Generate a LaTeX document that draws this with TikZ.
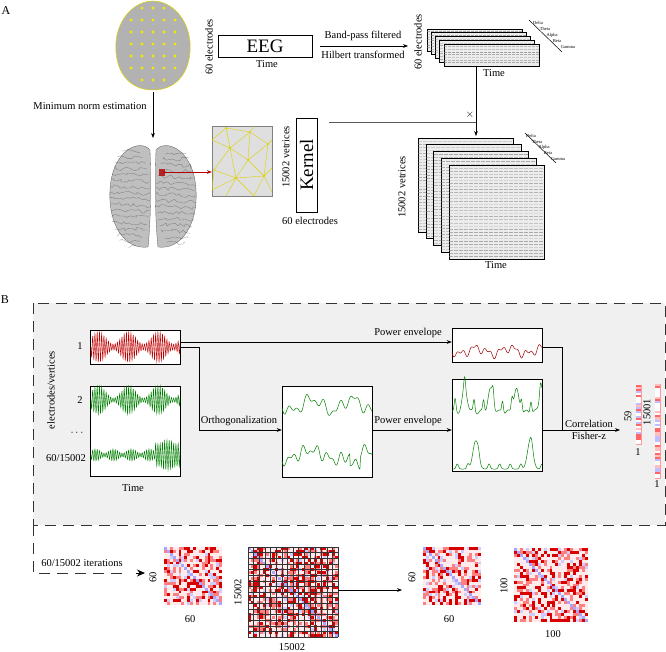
\documentclass[tikz,border=0pt]{standalone}
\usepackage{fontspec}
\setmainfont{Liberation Serif}
\usetikzlibrary{arrows.meta,decorations.pathmorphing}
\newcommand\rmat[5]{% x y size n grid
  \pgfmathsetmacro\mycs{#3/#4}
  \foreach \i in {1,...,#4}{\foreach \j in {1,...,#4}{
    \pgfmathtruncatemacro\v{random(0,100)}
    \ifnum\i=\j \def\cc{blue!35}\else
      \ifnum\v<24 \def\cc{red!85!black}\else
      \ifnum\v<46 \def\cc{red!50}\else
      \ifnum\v<54 \def\cc{blue!20}\else \def\cc{red!8}\fi\fi\fi\fi
    \fill[\cc] ({#1+(\j-1)*\mycs},{#2+(\i-1)*\mycs}) rectangle ++(\mycs,\mycs);
  }}
  \ifnum#5=1
    \foreach \k in {0,...,16}{\draw[black!80,line width=0.5pt] ({#1+\k*#3/16},#2) -- ++(0,#3);
      \draw[black!80,line width=0.5pt] (#1,{#2+\k*#3/16}) -- ++(#3,0);}
  \fi}
\newcommand\rvec[5]{% x y w h n
  \draw[red!40,line width=0.4pt] (#1,#2) rectangle ++(#3,#4);
  \pgfmathsetmacro\mycs{#4/#5}
  \foreach \i in {1,...,#5}{
    \pgfmathtruncatemacro\v{random(0,100)}
    \ifnum\v<25 \def\cc{red!60}\else\ifnum\v<45 \def\cc{blue!25}\else\ifnum\v<65 \def\cc{red!25}\else\def\cc{white}\fi\fi\fi
    \fill[\cc] (#1,{#2+(\i-1)*\mycs}) rectangle ++(#3,\mycs);}}
\begin{document}
\begin{tikzpicture}[x=1pt,y=-1pt,
  lbl/.style={font=\fontsize{10.5}{12}\selectfont,inner sep=1pt},
  tiny/.style={font=\fontsize{4.5}{5}\selectfont,inner sep=0pt},
  sbox/.style={draw,fill=white,inner sep=0pt,line width=0.5pt},
  arr/.style={-{Stealth[length=5pt]},line width=0.5pt},
  ln/.style={line width=0.5pt}]
\useasboundingbox (0,0) rectangle (666,652);
\pgfmathsetseed{7}
% ---------- A
\node[font=\fontsize{12}{12}\selectfont] (la) at (6,11) {A};
% head
\path[fill=gray!60,draw=yellow!70!olive,line width=0.5pt] (153,1) .. controls (135,1) and (118,18) .. (116,42) .. controls (114,70) and (128,90) .. (153,90) .. controls (178,90) and (192,70) .. (190,42) .. controls (188,18) and (171,1) .. (153,1) -- cycle;
\foreach \yy in {8,20,32,44,56,68,80}{
  \foreach \xx in {-33,-22,-11,0,11,22,33}{
    \pgfmathsetmacro\w{36*sqrt(max(0,1-((\yy-45)/45)^2))-3}
    \pgfmathtruncatemacro\ok{abs(\xx)<\w?1:0}
    \ifnum\ok=1 \fill[yellow!90!olive] ({153+\xx},\yy) circle (1.6);\fi}}
\coordinate (headb) at (153,92);
\node[lbl,rotate=90] (e1) at (209,47) {60 electrodes};
\node[sbox,minimum width=94pt,minimum height=22pt,font=\fontsize{19}{20}\selectfont] (eeg) at (265,46) {EEG};
\node[lbl] (t1) at (267,64) {Time};
\coordinate (bp1) at (320,46); \coordinate (bp2) at (408,46);
\draw[arr] (bp1) -- (bp2);
\node[lbl] (bpf) at (363,36) {Band-pass filtered};
\node[lbl] (hil) at (363,55) {Hilbert transformed};
% small stack
\foreach \i in {0,...,4}{
  \draw[sbox,fill=gray!15] ({427+4.2*\i},{29+3.75*\i}) rectangle ++(95,22);
  \foreach \k in {1,...,7}{\pgfmathsetmacro\o{rnd*0.5+0.2}
    \draw[gray,opacity=\o,line width=0.8pt,dash pattern=on 3pt off 1pt] ({427+4.2*\i},{29+3.75*\i+\k*2.7}) -- ++(95,0);}}
\node[inner sep=0pt,minimum width=95pt,minimum height=22pt] (stk1) at (491.8,55) {};
\node[lbl,rotate=90] (e2) at (418,42) {60 electrodes};
\node[lbl] (t2) at (494,73) {Time};
\draw[ln] (529,20) -- (562,52);
\node[tiny] at (538,23) {Delta};
\node[tiny] at (545,29) {Theta};
\node[tiny] at (552,35) {Alpha};
\node[tiny] at (557,41) {Beta};
\node[tiny] at (568,47) {Gamma};
% minimum norm
\node[lbl] (mn) at (90,106) {Minimum norm estimation};
\coordinate (brt) at (153,138);
\draw[arr] (headb) -- (brt);
% brain
\begin{scope}
\path[fill=gray!50,draw=gray!70!black,line width=0.3pt] (150,150) .. controls (140,138) and (112,150) .. (110,190) .. controls (108,225) and (125,250) .. (148,247) .. controls (151,220) and (151,180) .. (150,150) -- cycle;
\path[fill=gray!50,draw=gray!70!black,line width=0.3pt] (156,150) .. controls (166,138) and (194,150) .. (196,190) .. controls (198,225) and (181,250) .. (158,247) .. controls (155,220) and (155,180) .. (156,150) -- cycle;
\clip (130,197) ellipse (20 and 51) (176,197) ellipse (20 and 51);
\foreach \yy in {150,156,...,246}{
  \draw[gray!40!black,line width=0.35pt,opacity=0.45,decorate,decoration={random steps,segment length=3pt,amplitude=2pt}] (108,\yy) -- (198,{\yy+4});}
\end{scope}
\fill[red!70!black,opacity=0.8] (159,169) rectangle (165,176);
\node[inner sep=0pt] (roi) at (162,172) {};
% mesh
\node[draw=gray,fill=gray!25,minimum width=60pt,minimum height=70pt,inner sep=0pt] (mesh) at (242,161) {};
\draw[arr,red!70!black] (roi) -- (mesh.west |- roi);
\begin{scope}[yellow!70!olive,line width=0.4pt]
\draw (212,140) -- (226,128) (226,128) -- (230,148) -- (212,140) (226,128) -- (250,132) -- (230,148) (250,132) -- (268,144) -- (248,160) -- (250,132) (230,148) -- (248,160) (230,148) -- (214,170) -- (236,178) -- (230,148) (236,178) -- (248,160) -- (264,176) -- (236,178) (268,144) -- (264,176) (264,176) -- (272,168) (268,144) -- (272,140) (214,170) -- (212,190) -- (236,178) -- (226,196) (236,178) -- (254,196) -- (264,176) -- (272,192) (250,132) -- (254,126);
\fill (230,148) circle (1) (248,160) circle (1) (250,132) circle (1) (268,144) circle (1) (236,178) circle (1) (214,170) circle (1) (264,176) circle (1) (226,128) circle (1);
\end{scope}
% kernel
\node[lbl,rotate=90] (v1) at (286,157) {15002 vetrices};
\node[sbox,minimum width=21pt,minimum height=94pt,font=\fontsize{19}{20}\selectfont] (ker) at (306.5,165) {};
\node[rotate=90,font=\fontsize{19}{20}\selectfont] at (ker) {Kernel};
\node[lbl] (e3) at (310,221) {60 electrodes};
% big stack
\foreach \i in {0,...,4}{
  \draw[sbox,fill=gray!15] ({418+7.75*\i},{138+6.75*\i}) rectangle ++(95,94);
  \foreach \k in {1,...,30}{\pgfmathsetmacro\o{rnd*0.5+0.15}
    \draw[gray,opacity=\o,line width=0.8pt,dash pattern=on 4pt off 1pt] ({418+7.75*\i},{138+6.75*\i+\k*3.05}) -- ++(95,0);}}
\node[inner sep=0pt,minimum width=95pt,minimum height=94pt] (stk2) at (496.5,212) {};
\node[lbl,rotate=90] (v2) at (402,187) {15002 vetrices};
\node[lbl] (t3) at (496,265) {Time};
\draw[ln] (525,133) -- (556,163);
\node[tiny] at (531,136) {Delta};
\node[tiny] at (537,142) {Theta};
\node[tiny] at (544,147) {Alpha};
\node[tiny] at (548,153) {Beta};
\node[tiny] at (558,159) {Gamma};
% multiply
\coordinate (mj) at (476,122);
\draw[ln,gray!70!black] (329,122) -- (mj);
\draw[arr] (476,66) -- (476,136);
\node[lbl] at (470,115) {$\times$};
% ---------- B
\node[font=\fontsize{12}{12}\selectfont] (lb) at (5,300) {B};
\draw[fill=gray!12,draw=black!80,line width=1pt,dash pattern=on 11pt off 7pt] (33,303) rectangle (665,525);
\draw[black!80,line width=1pt,dash pattern=on 11pt off 7pt] (33,525) -- (33,573) -- (128,573);
\coordinate (itend) at (145,573);
\draw[-{Stealth[length=8pt,width=7pt]},line width=1pt] (136,573) -- (itend);
\node[lbl] (it) at (82,563) {60/15002 iterations};
\node[lbl,rotate=90] (ev) at (51,390) {electrodes/vertices};
\node[lbl] at (80,346) {1};
\node[lbl] at (80,400) {2};
\node[lbl] at (77,433) {$\cdots$};
\node[lbl] at (66,458) {60/15002};
\node[sbox,minimum width=90pt,minimum height=34pt] (sr) at (135,347) {};
\node[sbox,minimum width=90pt,minimum height=90pt] (sg) at (135,431) {};
\node[lbl] (t4) at (133,488) {Time};
\draw[red!75!black,line width=0.45pt] plot[domain=0:89,samples=500] ({91+\x},{347+(9+6*sin(\x*12))*sin(\x*160)});
\draw[green!50!black,line width=0.45pt] plot[domain=0:89,samples=500] ({91+\x},{400+(8+6*sin(\x*12))*sin(\x*160)});
\draw[green!50!black,line width=0.45pt] plot[domain=0:89,samples=500] ({91+\x},{455+(4+2*sin(\x*20)+(\x>64)*9)*sin(\x*160)});
% ortho
\node[sbox,minimum width=90pt,minimum height=91pt] (so) at (327,431.5) {};
\draw[green!50!black,line width=0.5pt] plot[domain=0:90,samples=150] ({282+\x},{405+6*sin(\x*9)+4*sin(\x*23+40)+3*sin(\x*41)});
\draw[green!50!black,line width=0.5pt] plot[domain=0:90,samples=150] ({282+\x},{455+5*sin(\x*7+70)+4*sin(\x*29)+3*sin(\x*47+20)+(\x>68)*(\x<78)*12});
\coordinate (orth) at (199,347);
\draw[ln] (sr.east |- orth) -- (orth) -- (199,430) ;
\draw[arr] (199,430) -- (so.west |- 0,430);
\node[lbl] at (239,421) {Orthogonalization};
% envelopes
\node[sbox,minimum width=90pt,minimum height=34pt] (et) at (497,345) {};
\node[sbox,minimum width=90pt,minimum height=92pt] (eb) at (497,425) {};
\draw[red!60!black,line width=0.5pt] plot[domain=0:90,samples=150] ({452+\x},{351+3*sin(\x*11)+3*sin(\x*27+30)+2*sin(\x*53)});
\draw[green!50!black,line width=0.5pt] plot[domain=0:90,samples=300] ({452+\x},{412-22*abs(sin(\x*7))^10-12*abs(sin(\x*19+30))^12-2*sin(\x*40)});
\draw[green!50!black,line width=0.5pt] plot[domain=0:90,samples=300] ({452+\x},{469-28*abs(sin(\x*3.3+12))^40-5*abs(sin(\x*17))^8});
\draw[arr] (sr.east |- 0,342) -- (et.west |- 0,342);
\node[lbl] at (408,333) {Power envelope};
\draw[arr] (so.east |- 0,430) -- (eb.west |- 0,430);
\node[lbl] at (408,421) {Power envelope};
\coordinate (cj) at (562,347);
\draw[ln] (et.east |- cj) -- (cj) -- (562,430);
\coordinate (vend) at (620,430);
\draw[arr] (eb.east |- vend) -- (vend);
\node[lbl] at (589,424) {Correlation};
\node[lbl] at (589,436) {Fisher-z};
\rvec{636}{385}{5}{59}{30}
\rvec{655}{384}{5}{94}{45}
\node[lbl,rotate=90] at (628,416) {59};
\node[lbl] at (638,452) {1};
\node[lbl,rotate=90] at (647,412) {15001};
\node[lbl] at (657,484) {1};
% matrices
\rmat{164}{547}{58}{20}{0}
\rmat{248}{547}{90}{30}{1}
\rmat{423}{547}{58}{20}{0}
\rmat{514}{548}{74}{25}{0}
\node[inner sep=0pt,minimum size=90pt] (m2) at (293,592) {};
\node[inner sep=0pt,minimum size=58pt] (m3) at (452,576) {};
\draw[arr] (m2.east |- 0,590) -- (402,590);
\node[lbl,rotate=90] at (153,577) {60};
\node[lbl] at (190,619) {60};
\node[lbl,rotate=90] at (238,592) {15002};
\node[lbl] at (292,647) {15002};
\node[lbl,rotate=90] at (412,577) {60};
\node[lbl] at (449,619) {60};
\node[lbl,rotate=90] at (504,586) {100};
\node[lbl] at (553,634) {100};
\end{tikzpicture}
\end{document}
